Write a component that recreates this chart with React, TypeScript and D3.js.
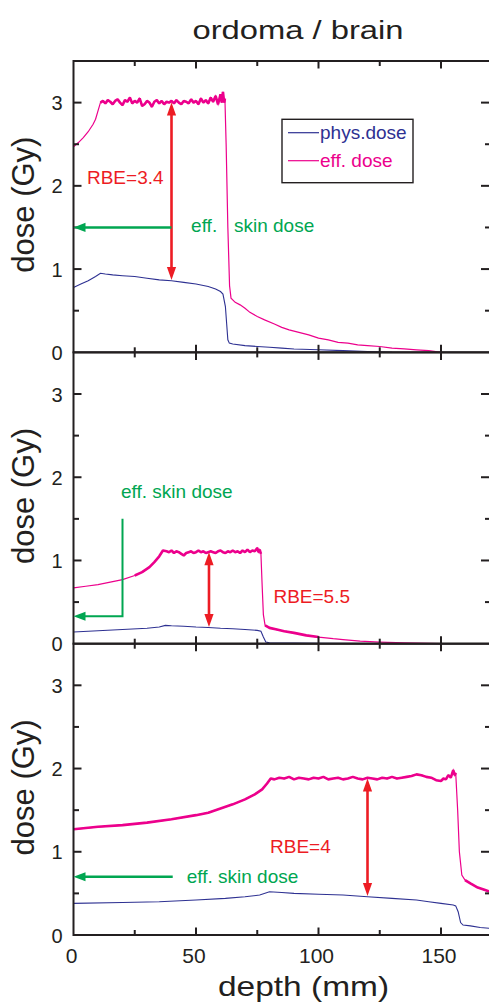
import React from 'react';
import * as d3 from 'd3';

// ---------------- data ----------------
const depthTicksMajor = [50, 100, 150];
const depthTicksMinor = [25, 75, 125];
const depthTickLabels = [0, 50, 100, 150];
const doseTicksMajor = [1, 2, 3];
const doseTicksMinor = [0.5, 1.5, 2.5];
const doseTickLabels = [0, 1, 2, 3];

const title = 'ordoma / brain';
const xLabel = 'depth (mm)';
const yLabel = 'dose (Gy)';
const legendLabels = ['phys.dose', 'eff. dose'];

// panel 1 (top)
const effDose1: [number, number][] = [
  [0, 2.47], [2, 2.52], [4, 2.58], [6, 2.65], [8, 2.74], [9, 2.8], [10, 2.9], [11, 3.0], [12, 3.02],
  [13, 2.99], [14, 3.03], [15, 3.01], [16, 2.98], [17, 3.02], [18, 3.04], [19, 3.0], [20, 2.97],
  [21, 3.03], [22, 3.01], [23, 3.06], [24, 2.99], [25, 3.02], [26, 3.0], [27, 3.05], [28, 2.96],
  [29, 2.98], [30, 3.02], [31, 3.0], [32, 2.95], [33, 3.01], [34, 3.03], [35, 2.99], [36, 3.02],
  [37, 2.98], [38, 3.01], [39, 3.0], [40, 3.02], [41, 2.99], [42, 3.03], [43, 3.0], [44, 2.98],
  [45, 3.02], [46, 3.01], [47, 2.99], [48, 3.04], [49, 3.0], [50, 3.02], [51, 2.98], [52, 3.05],
  [53, 3.0], [54, 3.03], [55, 2.99], [56, 3.06], [57, 3.01], [58, 3.08], [59, 2.98], [60, 3.1],
  [60.5, 3.0], [61, 3.13], [61.5, 3.0], [61.8, 3.05], [62.3, 2.5], [63, 1.5], [63.7, 0.8], [64.3, 0.65],
  [66, 0.6], [68, 0.57], [70, 0.53], [72, 0.48], [75, 0.43], [78, 0.39], [82, 0.34], [85, 0.3],
  [88, 0.27], [92, 0.24], [96, 0.21], [100, 0.17], [104, 0.15], [108, 0.12], [112, 0.11], [116, 0.09],
  [120, 0.08], [125, 0.07], [130, 0.05], [135, 0.04], [140, 0.03], [145, 0.02], [150, 0.0],
];
const physDose1: [number, number][] = [
  [0, 0.78], [3, 0.82], [6, 0.86], [9, 0.91], [11, 0.95], [13, 0.94], [16, 0.93], [20, 0.92],
  [25, 0.91], [30, 0.89], [35, 0.87], [40, 0.86], [45, 0.84], [50, 0.82], [55, 0.79], [58, 0.76],
  [60, 0.73], [61, 0.7], [62, 0.55], [62.5, 0.35], [63, 0.15], [63.6, 0.11], [65, 0.1], [70, 0.08],
  [75, 0.07], [80, 0.06], [85, 0.05], [90, 0.04], [100, 0.03], [110, 0.02], [120, 0.01], [130, 0.0],
];

// panel 2 (middle)
const effDose2: [number, number][] = [
  [0, 0.67], [5, 0.69], [10, 0.71], [15, 0.74], [20, 0.77], [25, 0.82], [28, 0.86], [31, 0.92],
  [33, 0.98], [35, 1.05], [36.5, 1.12], [38, 1.11], [39, 1.1], [40, 1.12], [41, 1.09], [42, 1.11],
  [43, 1.1], [44, 1.08], [45, 1.06], [46, 1.09], [47, 1.1], [48, 1.11], [49, 1.09], [50, 1.1],
  [51, 1.12], [52, 1.1], [53, 1.11], [54, 1.09], [55, 1.1], [56, 1.11], [57, 1.1], [58, 1.09],
  [59, 1.11], [60, 1.12], [61, 1.1], [62, 1.09], [63, 1.11], [64, 1.1], [65, 1.12], [66, 1.1],
  [67, 1.11], [68, 1.09], [69, 1.12], [70, 1.1], [71, 1.13], [72, 1.1], [73, 1.12], [74, 1.11],
  [75, 1.15], [75.5, 1.1], [76, 1.13], [76.5, 1.08], [77, 0.7], [77.5, 0.35], [78.2, 0.22],
  [80, 0.19], [83, 0.17], [86, 0.15], [90, 0.13], [95, 0.1], [100, 0.08], [103, 0.07], [106, 0.06],
  [110, 0.05], [117, 0.03], [125, 0.02], [135, 0.01], [150, 0.0],
];
const physDose2: [number, number][] = [
  [0, 0.14], [10, 0.155], [20, 0.17], [30, 0.185], [35, 0.2], [37.5, 0.22], [40, 0.215], [45, 0.21],
  [50, 0.2], [55, 0.195], [60, 0.185], [65, 0.18], [70, 0.17], [75, 0.16], [76.5, 0.15], [77.5, 0.08],
  [78.5, 0.02], [80, 0.01], [100, 0.005], [150, 0.0],
];

// panel 3 (bottom)
const effDose3: [number, number][] = [
  [0, 1.27], [10, 1.3], [20, 1.32], [30, 1.35], [40, 1.39], [50, 1.44], [55, 1.47], [60, 1.52],
  [65, 1.57], [70, 1.63], [74, 1.69], [77, 1.75], [79, 1.82], [80.5, 1.88], [82, 1.87], [84, 1.89],
  [86, 1.88], [88, 1.9], [90, 1.87], [92, 1.89], [94, 1.88], [96, 1.87], [98, 1.89], [100, 1.88],
  [102, 1.9], [104, 1.87], [106, 1.88], [108, 1.89], [110, 1.87], [112, 1.88], [114, 1.9], [116, 1.88],
  [118, 1.87], [120, 1.89], [122, 1.88], [124, 1.87], [126, 1.89], [128, 1.88], [130, 1.9], [132, 1.88],
  [134, 1.89], [136, 1.9], [138, 1.91], [140, 1.93], [142, 1.92], [144, 1.9], [146, 1.89], [148, 1.86],
  [150, 1.85], [151, 1.88], [152, 1.87], [153, 1.92], [154, 1.89], [155, 1.98], [155.6, 1.92], [156, 1.95],
  [156.8, 1.5], [157.5, 1.0], [158.5, 0.72], [159.8, 0.66], [162, 0.62], [165, 0.57], [168, 0.54], [170, 0.52],
];
const physDose3: [number, number][] = [
  [0, 0.38], [20, 0.39], [35, 0.4], [50, 0.42], [62, 0.44], [70, 0.46], [76, 0.48], [80, 0.52],
  [85, 0.51], [90, 0.5], [100, 0.49], [110, 0.48], [120, 0.46], [130, 0.44], [140, 0.42], [145, 0.4],
  [150, 0.38], [155, 0.36], [156, 0.35], [157, 0.28], [158, 0.15], [159, 0.12], [162, 0.11], [166, 0.09],
  [170, 0.08],
];

const effSeries = [effDose1, effDose2, effDose3];
const physSeries = [physDose1, physDose2, physDose3];
// depth ranges where the eff. dose curve is noisy (drawn heavier)
const noisyRanges: [number, number][][] = [
  [[10.5, 62]],
  [[22, 76.6], [78, 102]],
  [[0, 156.2], [159, 170]],
];

// annotations (data units)
const rbeLabels = ['RBE=3.4', 'RBE=5.5', 'RBE=4'];
const rbeArrowX = [40, 55.3, 120];
const rbeArrowTop = [3.0, 1.1, 1.88];
const rbeArrowBottom = [0.87, 0.2, 0.47];
const rbeLabelX = [5.5, 81.6, 80.2];
const rbeLabelY = [2.02, 0.49, 0.98];

const skinArrowPaths: [number, number][][] = [
  [[40, 1.5], [0, 1.5]],
  [[20, 1.5], [20, 0.33], [0, 0.33]],
  [[40.5, 0.7], [0, 0.7]],
];
const skinTexts: { text: string; x: number; y: number }[][] = [
  [{ text: 'eff.', x: 48, y: 1.45 }, { text: 'skin dose', x: 65.5, y: 1.45 }],
  [{ text: 'eff. skin dose', x: 19.4, y: 1.75 }],
  [{ text: 'eff. skin dose', x: 46.2, y: 0.63 }],
];

// ---------------- styling ----------------
const FONT = "'Liberation Sans', Arial, Helvetica, sans-serif";
const AXIS = '#231f20';
const BLUE = '#2e3192';
const PINK = '#ec008c';
const RED = '#ed1c24';
const GREEN = '#00a651';

const W = 489;
const H = 1004;
const panelTops = [61, 352.4, 643.7];
const panelH = 291.3;

const x = d3.scaleLinear().domain([0, 170]).range([73.5, 490]);

function arrowHead(tx: number, ty: number, dx: number, dy: number, len: number, hw: number) {
  const bx = tx - dx * len;
  const by = ty - dy * len;
  const px = -dy;
  const py = dx;
  return `M${tx},${ty}L${bx + px * hw},${by + py * hw}L${bx - px * hw},${by - py * hw}Z`;
}

function Panel({ i }: { i: number }) {
  const top = panelTops[i];
  const bottom = top + panelH;
  const y = d3.scaleLinear().domain([0, 3.5]).range([bottom, top]);
  const line = d3
    .line<[number, number]>()
    .x((d) => x(d[0]))
    .y((d) => y(d[1]));
  const x0 = x.range()[0];
  const x1 = x.range()[1];

  const eff = effSeries[i];
  const phys = physSeries[i];

  // red double arrow
  const ax = x(rbeArrowX[i]);
  const ayTop = y(rbeArrowTop[i]);
  const ayBot = y(rbeArrowBottom[i]);
  const headLen = 13;

  // green arrow
  const gp = skinArrowPaths[i].map((p) => [x(p[0]), y(p[1])] as [number, number]);
  const last = gp[gp.length - 1];
  const prev = gp[gp.length - 2];
  const gdx = Math.sign(last[0] - prev[0]);
  const gdy = Math.sign(last[1] - prev[1]);
  const gLen = 12;
  const gShort = gp.slice(0, -1).concat([[last[0] - gdx * (gLen - 2), last[1] - gdy * (gLen - 2)]]);

  return (
    <g>
      {/* curves */}
      <path d={line(phys) || ''} fill="none" stroke={BLUE} strokeWidth={1.1} />
      <path d={line(eff) || ''} fill="none" stroke={PINK} strokeWidth={1.2} />
      {noisyRanges[i].map((r, k) => (
        <path
          key={k}
          d={line(eff.filter((d) => d[0] >= r[0] && d[0] <= r[1])) || ''}
          fill="none"
          stroke={PINK}
          strokeWidth={2.6}
          strokeLinejoin="bevel"
        />
      ))}

      {/* frame */}
      <rect x={x0} y={top} width={x1 - x0} height={panelH} fill="none" stroke={AXIS} strokeWidth={2} />

      {/* y ticks, both sides */}
      {doseTicksMajor.map((v) => (
        <g key={'ym' + v}>
          <line x1={x0} x2={x0 + 8} y1={y(v)} y2={y(v)} stroke={AXIS} strokeWidth={2} />
          <line x1={x1} x2={x1 - 9} y1={y(v)} y2={y(v)} stroke={AXIS} strokeWidth={2} />
        </g>
      ))}
      {doseTicksMinor.map((v) => (
        <g key={'yn' + v}>
          <line x1={x0} x2={x0 + 5.5} y1={y(v)} y2={y(v)} stroke={AXIS} strokeWidth={2} />
          <line x1={x1} x2={x1 - 5} y1={y(v)} y2={y(v)} stroke={AXIS} strokeWidth={2} />
        </g>
      ))}
      {/* x ticks on bottom and top, inward */}
      {depthTicksMajor.map((v) => (
        <g key={'xm' + v}>
          <line x1={x(v)} x2={x(v)} y1={bottom} y2={bottom - 7.5} stroke={AXIS} strokeWidth={2} />
          <line x1={x(v)} x2={x(v)} y1={top} y2={top + 7.5} stroke={AXIS} strokeWidth={2} />
        </g>
      ))}
      {depthTicksMinor.map((v) => (
        <g key={'xn' + v}>
          <line x1={x(v)} x2={x(v)} y1={bottom} y2={bottom - 5} stroke={AXIS} strokeWidth={2} />
          <line x1={x(v)} x2={x(v)} y1={top} y2={top + 5} stroke={AXIS} strokeWidth={2} />
        </g>
      ))}

      {/* y tick labels */}
      {doseTickLabels.map((v) => (
        <text
          key={'yl' + v}
          x={62.5}
          y={y(v) + 7.5}
          textAnchor="end"
          fontSize={20}
          fontFamily={FONT}
          fill={AXIS}
        >
          {v}
        </text>
      ))}

      {/* y axis label */}
      <text
        transform={`translate(34,${(top + bottom) / 2 - 2}) rotate(-90)`}
        textAnchor="middle"
        fontSize={31}
        fontFamily={FONT}
        fill={AXIS}
      >
        {yLabel}
      </text>

      {/* red RBE arrow */}
      <line x1={ax} x2={ax} y1={ayTop + headLen - 1} y2={ayBot - headLen + 1} stroke={RED} strokeWidth={2.6} />
      <path d={arrowHead(ax, ayTop, 0, -1, headLen, 4.6)} fill={RED} />
      <path d={arrowHead(ax, ayBot, 0, 1, headLen, 4.6)} fill={RED} />
      <text x={x(rbeLabelX[i])} y={y(rbeLabelY[i])} fontSize={19} fontFamily={FONT} fill={RED}>
        {rbeLabels[i]}
      </text>

      {/* green skin dose arrow */}
      <path
        d={d3.line()(gShort) || ''}
        fill="none"
        stroke={GREEN}
        strokeWidth={i === 1 ? 2 : 2.6}
      />
      <path d={arrowHead(last[0], last[1], gdx, gdy, gLen, 4.6)} fill={GREEN} />
      {skinTexts[i].map((t, k) => (
        <text key={k} x={x(t.x)} y={y(t.y)} fontSize={19} fontFamily={FONT} fill={GREEN}>
          {t.text}
        </text>
      ))}
    </g>
  );
}

export default function App() {
  const bottom = panelTops[2] + panelH;
  return (
    <svg
      width={W}
      height={H}
      viewBox={`0 0 ${W} ${H}`}
      style={{ position: 'absolute', left: 0, top: 0, background: '#fff' }}
    >
      <rect x={0} y={0} width={W} height={H} fill="#fff" />
      <text
        transform="translate(298,39) scale(1.26,1)"
        textAnchor="middle"
        fontSize={26}
        fontFamily={FONT}
        fill={AXIS}
      >
        {title}
      </text>

      {[0, 1, 2].map((i) => (
        <Panel key={i} i={i} />
      ))}

      {/* legend in top panel */}
      <g>
        <rect x={282} y={119.3} width={131} height={63.4} fill="#fff" stroke={AXIS} strokeWidth={1.4} />
        <line x1={288} x2={319} y1={132.7} y2={132.7} stroke={BLUE} strokeWidth={1.2} />
        <text x={320} y={138.5} fontSize={19} fontFamily={FONT} fill={BLUE}>
          {legendLabels[0]}
        </text>
        <line x1={288} x2={319} y1={160.7} y2={160.7} stroke={PINK} strokeWidth={1.2} />
        <text x={320} y={166.5} fontSize={19} fontFamily={FONT} fill={PINK}>
          {legendLabels[1]}
        </text>
      </g>

      {/* x tick labels */}
      {depthTickLabels.map((v) => (
        <text
          key={'xl' + v}
          x={x(v) - 2}
          y={963}
          textAnchor="middle"
          fontSize={21}
          fontFamily={FONT}
          fill={AXIS}
        >
          {v}
        </text>
      ))}
      <text
        transform={`translate(303.5,${bottom + 61}) scale(1.24,1)`}
        textAnchor="middle"
        fontSize={27}
        fontFamily={FONT}
        fill={AXIS}
      >
        {xLabel}
      </text>
    </svg>
  );
}
